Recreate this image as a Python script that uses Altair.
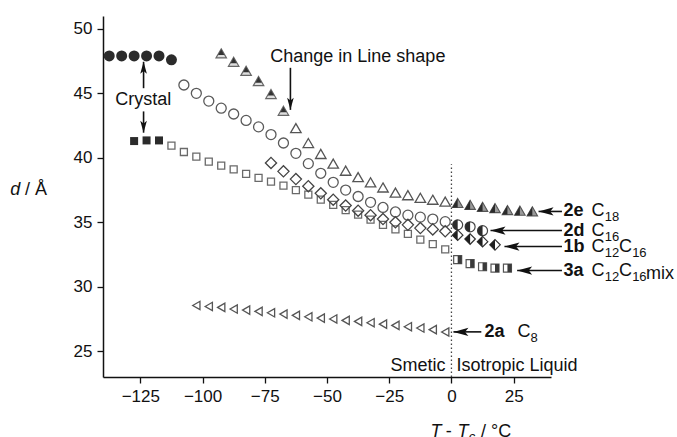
import altair as alt
import pandas as pd

FONT = "Liberation Sans"

# ---------------- data ----------------
# 2d (C16) crystal phase, filled circles
crys_circle_T = [-137.5, -132.5, -127.5, -122.5, -117.5, -112.5]
crys_circle_d = [47.9, 47.9, 47.9, 47.9, 47.9, 47.6]

# 3a crystal phase, filled squares
crys_square_T = [-127.5, -122.5, -117.5]
crys_square_d = [41.3, 41.35, 41.35]

# 3a (C12C16mix) smectic, open squares
sq_T = [-112.5, -107.5, -102.5, -97.5, -92.5, -87.5, -82.5, -77.5, -72.5, -67.5, -62.5, -57.5,
        -52.5, -47.5, -42.5, -37.5, -32.5, -27.5, -22.5, -17.5, -12.5, -7.5, -2.5]
sq_d = [40.95, 40.45, 40.1, 39.7, 39.4, 39.1, 38.75, 38.45, 38.15, 37.85, 37.5, 37.15,
        36.75, 36.35, 35.95, 35.6, 35.2, 34.8, 34.45, 34.1, 33.65, 33.3, 32.9]

# 2d (C16) smectic, open circles
circ_T = [-107.5, -102.5, -97.5, -92.5, -87.5, -82.5, -77.5, -72.5, -67.5, -62.5, -57.5,
          -52.5, -47.5, -42.5, -37.5, -32.5, -27.5, -22.5, -17.5, -12.5, -7.5, -2.5]
circ_d = [45.65, 45.0, 44.4, 43.85, 43.4, 42.9, 42.4, 41.8, 41.15, 40.35, 39.55,
          38.8, 38.1, 37.5, 37.0, 36.55, 36.15, 35.8, 35.55, 35.4, 35.25, 35.05]

# 1b (C12C16) smectic, open diamonds
diam_T = [-72.5, -67.5, -62.5, -57.5, -52.5, -47.5, -42.5, -37.5, -32.5, -27.5, -22.5,
          -17.5, -12.5, -7.5, -2.5]
diam_d = [39.6, 38.95, 38.35, 37.8, 37.25, 36.75, 36.3, 35.9, 35.55, 35.25, 35.0,
          34.8, 34.55, 34.45, 34.3]

# 2e (C18) before the change in line shape, shaded triangles
tri_change_T = [-92.5, -87.5, -82.5, -77.5, -72.5, -67.5]
tri_change_d = [48.1, 47.45, 46.75, 45.95, 44.95, 43.65]

# 2e (C18) smectic, open triangles
tri_T = [-62.5, -57.5, -52.5, -47.5, -42.5, -37.5, -32.5, -27.5, -22.5, -17.5, -12.5, -7.5, -2.5]
tri_d = [42.3, 41.15, 40.3, 39.55, 39.0, 38.5, 38.1, 37.7, 37.3, 37.1, 36.9, 36.75, 36.6]

# isotropic liquid (half-filled symbols)
iso_tri_T = [2.5, 7.5, 12.5, 17.5, 22.5, 27.5, 32.5]
iso_tri_d = [36.5, 36.35, 36.2, 36.1, 35.95, 35.9, 35.85]
iso_circ_T = [2.5, 7.5, 12.5]
iso_circ_d = [34.8, 34.65, 34.35]
iso_diam_T = [2.5, 7.5, 12.5, 17.5]
iso_diam_d = [34.0, 33.7, 33.5, 33.25]
iso_sq_T = [2.5, 7.5, 12.5, 17.5, 22.5]
iso_sq_d = [32.1, 31.8, 31.55, 31.45, 31.45]

# 2a (C8), left-pointing triangles
c8_T = [-102.5, -97.5, -92.5, -87.5, -82.5, -77.5, -72.5, -67.5, -62.5, -57.5, -52.5,
        -47.5, -42.5, -37.5, -32.5, -27.5, -22.5, -17.5, -12.5, -7.5, -2.5]
c8_d = [28.55, 28.47, 28.4, 28.27, 28.19, 28.09, 27.98, 27.88, 27.78, 27.67, 27.57,
        27.5, 27.39, 27.31, 27.21, 27.1, 27.0, 26.9, 26.8, 26.67, 26.49]

x_ticks = [-125, -100, -75, -50, -25, 0, 25]
y_ticks = [25, 30, 35, 40, 45, 50]

# ---------------- helpers ----------------
X = alt.X("T:Q", scale=alt.Scale(domain=[-140, 40], nice=False, zero=False),
          axis=alt.Axis(values=x_ticks, title=None, grid=False))
Y = alt.Y("d:Q", scale=alt.Scale(domain=[23, 51], nice=False, zero=False),
          axis=alt.Axis(values=y_ticks, title=None, grid=False))


def df(T, d):
    return pd.DataFrame({"T": T, "d": d})


def pts(data, **kw):
    base = dict(opacity=1)
    base.update(kw)
    return alt.Chart(data).mark_point(**base).encode(x=X, y=Y)


TRI = "M0,-0.866L1,0.866L-1,0.866Z"
TRI_LEFT = "M0,-0.866L0,0.866L-1,0.866Z"
TRI_TOP = "M0,-0.78L0.6,0.3L-0.6,0.3Z"
CIRC_LEFT = "M0,-1A1,1,0,0,0,0,1Z"
DIAM_LEFT = "M0,-1L-1,0L0,1Z"
SQ_RIGHT = "M0,-1L1,-1L1,1L0,1Z"
ARROW = "M0,0L2,-0.55L1.55,0L2,0.55Z"

layers = []
# crystal
layers.append(pts(df(crys_circle_T, crys_circle_d), shape="circle", filled=True, color="#2b2b2b", size=121))
layers.append(pts(df(crys_square_T, crys_square_d), shape="square", filled=True, color="#2b2b2b", size=64))
# smectic open symbols
layers.append(pts(df(sq_T, sq_d), shape="square", filled=False, color="#6a6a6a", strokeWidth=1.3, size=49))
layers.append(pts(df(circ_T, circ_d), shape="circle", filled=False, color="#5a5a5a", strokeWidth=1.3, size=100))
layers.append(pts(df(diam_T, diam_d), shape="diamond", filled=False, color="#444444", strokeWidth=1.3, size=125))
layers.append(pts(df(tri_T, tri_d), shape=TRI, filled=False, color="#555555", strokeWidth=1.3, size=110))
# change-of-shape triangles
layers.append(pts(df(tri_change_T, tri_change_d), shape=TRI, filled=True, color="#dddddd",
                  stroke="#666666", strokeWidth=1.2, size=110))
layers.append(pts(df(tri_change_T, tri_change_d), shape=TRI_TOP, filled=True, color="#333333", size=110))
# isotropic half-filled symbols
layers.append(pts(df(iso_tri_T, iso_tri_d), shape=TRI, filled=True, color="#9a9a9a",
                  stroke="#555555", strokeWidth=1.1, size=110))
layers.append(pts(df(iso_tri_T, iso_tri_d), shape=TRI_LEFT, filled=True, color="#2b2b2b", size=110))
layers.append(pts(df(iso_circ_T, iso_circ_d), shape="circle", filled=True, color="white",
                  stroke="#444444", strokeWidth=1.2, size=100))
layers.append(pts(df(iso_circ_T, iso_circ_d), shape=CIRC_LEFT, filled=True, color="#2b2b2b", size=100))
layers.append(pts(df(iso_diam_T, iso_diam_d), shape="diamond", filled=True, color="white",
                  stroke="#333333", strokeWidth=1.2, size=110))
layers.append(pts(df(iso_diam_T, iso_diam_d), shape=DIAM_LEFT, filled=True, color="#1f1f1f", size=110))
layers.append(pts(df(iso_sq_T, iso_sq_d), shape="square", filled=True, color="white",
                  stroke="#555555", strokeWidth=1.2, size=64))
layers.append(pts(df(iso_sq_T, iso_sq_d), shape=SQ_RIGHT, filled=True, color="#3a3a3a", size=64))
# C8
layers.append(pts(df(c8_T, c8_d), shape="triangle-left", filled=False, color="#555555", strokeWidth=1.3, size=70))

# dotted transition line at T - Tc = 0
layers.append(alt.Chart(pd.DataFrame({"T": [0], "d": [23], "d2": [39.5]}))
              .mark_rule(color="#444444", strokeWidth=1.3, strokeDash=[1.5, 2.5])
              .encode(x=X, y=Y, y2="d2:Q"))

# ---------------- annotations ----------------
# horizontal arrows (tip T, tail T, d)
h_arrows = pd.DataFrame({
    "T": [35.0, 15.7, 21.3, 26.4, 0.8],
    "T2": [44.4, 44.4, 44.4, 44.4, 12.0],
    "d": [35.84, 34.36, 33.12, 31.26, 26.5],
})
layers.append(alt.Chart(h_arrows).mark_rule(color="#111111", strokeWidth=1.6)
              .encode(x=X, x2="T2:Q", y=Y))
layers.append(alt.Chart(h_arrows).mark_point(shape=ARROW, filled=True, color="#111111", size=225, opacity=1)
              .encode(x=X, y=Y))

# vertical arrows
v_up = pd.DataFrame({"T": [-123.7], "d": [47.45], "d2": [45.4]})
v_down = pd.DataFrame({"T": [-123.7, -64.7], "d": [41.95, 43.72], "d2": [43.6, 46.98]})
for data, ang in [(v_up, 90), (v_down, 270)]:
    layers.append(alt.Chart(data).mark_rule(color="#111111", strokeWidth=1.6)
                  .encode(x=X, y=Y, y2="d2:Q"))
    layers.append(alt.Chart(data).mark_point(shape=ARROW, filled=True, color="#111111", size=144,
                                             angle=ang, opacity=1)
                  .encode(x=X, y=Y))


def texts(rows, **kw):
    base = dict(font=FONT, fontSize=18, color="#111111", align="left", baseline="middle")
    base.update(kw)
    data = pd.DataFrame(rows, columns=["txt", "T", "d"])
    return alt.Chart(data).mark_text(**base).encode(x=X, y=Y, text="txt:N")


layers.append(texts([["Crystal", -123.8, 44.5]], align="center"))
layers.append(texts([["Change in Line shape", -72.8, 47.83]]))
layers.append(texts([["2e", 45.0, 35.84], ["2d", 45.0, 34.36], ["1b", 45.0, 33.12],
                     ["3a", 45.0, 31.26], ["2a", 13.3, 26.5]], fontWeight="bold"))
layers.append(texts([["C", 56.3, 35.84], ["C", 56.3, 34.36], ["C", 56.3, 33.12], ["C", 67.3, 33.12],
                     ["C", 56.3, 31.26], ["C", 67.3, 31.26], ["C", 26.5, 26.5]]))
layers.append(texts([["18", 61.6, 35.84], ["16", 61.6, 34.36], ["12", 61.6, 33.12], ["16", 72.6, 33.12],
                     ["12", 61.6, 31.26], ["16", 72.6, 31.26], ["8", 31.8, 26.5]],
                    fontSize=13, dy=6))
layers.append(texts([["mix", 78.2, 31.26]], dy=3))
layers.append(texts([["Smetic", -2.4, 23.43]], align="right", baseline="alphabetic"))
layers.append(texts([["Isotropic Liquid", 2.0, 23.43]], baseline="alphabetic"))
# axis titles
layers.append(texts([["d", -177.3, 37.52]], fontStyle="italic"))
layers.append(texts([["/ Å", -171.3, 37.52]]))
layers.append(texts([["T", -8.4, 18.37], ["T", 2.4, 18.37]], fontStyle="italic", baseline="alphabetic"))
layers.append(texts([["-", -2.3, 18.37], ["/ °C", 11.9, 18.37]], baseline="alphabetic"))
layers.append(texts([["c", 7.0, 18.37]], fontStyle="italic", fontSize=13, baseline="alphabetic", dy=4))

chart = (
    alt.layer(*layers)
    .properties(width=448, height=361,
                background="white",
                autosize=alt.AutoSizeParams(type="none"),
                padding={"left": 103, "top": 16, "right": 126, "bottom": 60})
    .configure_axis(domainColor="#111111", domainWidth=1.5, tickColor="#111111", tickWidth=1.3,
                    tickSize=6, labelFont=FONT, labelFontSize=17, labelColor="#111111",
                    grid=False, labelPadding=5)
    .configure_view(stroke=None)
)

chart.save("out.html", embed_options={"renderer": "svg", "actions": False})
